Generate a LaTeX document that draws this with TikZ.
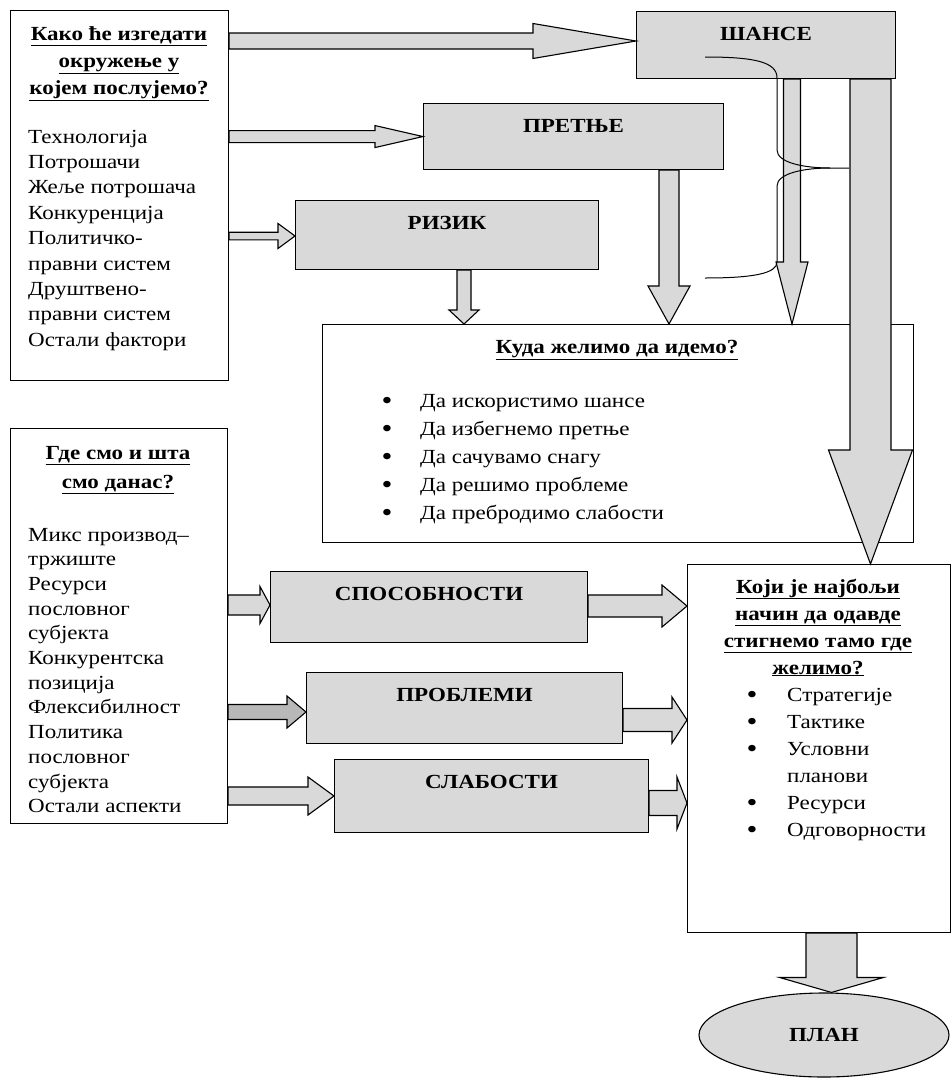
\documentclass[tikz,border=0pt]{standalone}
\usepackage{fontspec}
\setmainfont{Liberation Serif}[FakeStretch=1.15]
\usepackage{tikz}
\usetikzlibrary{calc,shapes.geometric}
\definecolor{boxGray}{gray}{0.85}
\definecolor{darkArrow}{gray}{0.72}

\tikzset{
  whitebox/.style={draw, line width=1.1pt, fill=white, inner sep=0pt, anchor=north west},
  graybox/.style={draw, line width=1.1pt, fill=boxGray, inner sep=0pt, anchor=north west},
  boxlabel/.style={font=\fontsize{20}{24}\selectfont\bfseries, inner sep=0pt, anchor=base},
  bodytext/.style={font=\fontsize{20}{24}\selectfont, inner sep=0pt, anchor=base west},
  bullettext/.style={font=\fontsize{27}{30}\selectfont, inner sep=0pt, anchor=base},
  titletext/.style={font=\fontsize{20}{24}\selectfont\bfseries, inner sep=0pt, anchor=base},
  blockarrow/.style={draw, line width=1.1pt, line join=miter}
}

% block arrow pointing right: [fill]{start}{tip}{half shaft}{half head}{head length}
\newcommand\harrow[6][boxGray]{%
  \filldraw[blockarrow, fill=#1] let \p1=(#2), \p2=(#3) in
    (\x1,{\y2+#4pt}) -- ({\x2-#6pt},{\y2+#4pt}) -- ({\x2-#6pt},{\y2+#5pt}) -- (\x2,\y2)
    -- ({\x2-#6pt},{\y2-#5pt}) -- ({\x2-#6pt},{\y2-#4pt}) -- (\x1,{\y2-#4pt}) -- cycle;}
% block arrow pointing down
\newcommand\varrow[6][boxGray]{%
  \filldraw[blockarrow, fill=#1] let \p1=(#2), \p2=(#3) in
    ({\x2-#4pt},\y1) -- ({\x2-#4pt},{\y2+#6pt}) -- ({\x2-#5pt},{\y2+#6pt}) -- (\x2,\y2)
    -- ({\x2+#5pt},{\y2+#6pt}) -- ({\x2+#4pt},{\y2+#6pt}) -- ({\x2+#4pt},\y1) -- cycle;}

\begin{document}
\begin{tikzpicture}[x=1pt,y=-1pt]
\path[use as bounding box, fill=white] (0,0) rectangle (952,1082);

% the white boxes
\node[whitebox, minimum width=218pt, minimum height=370pt] (envbox) at (10,10) {};
\node[whitebox, minimum width=217pt, minimum height=395pt] (nowbox) at (10,428) {};
\node[whitebox, minimum width=591pt, minimum height=218pt] (kudabox) at (322,324) {};
\node[whitebox, minimum width=263pt, minimum height=368pt] (kojibox) at (687,564) {};

% the grey boxes
\def\grayboxes{shanse/636/11/259/67/ШАНСЕ,
               pretnje/423/103/300/66/ПРЕТЊЕ,
               rizik/295/200/303/69/РИЗИК,
               sposob/270/571/317/71/СПОСОБНОСТИ,
               problemi/306/672/316/71/ПРОБЛЕМИ,
               slabosti/334/759/314/73/СЛАБОСТИ}
\foreach \nm/\bx/\by/\bw/\bh/\lbl in \grayboxes
{
\node[graybox, minimum width=\bw pt, minimum height=\bh pt] (\nm) at (\bx,\by) {};
\node[boxlabel] (\nm-lbl) at ([yshift=-29pt]\nm.north) {\lbl};
}

\node[ellipse, draw, line width=1.1pt, fill=boxGray, inner sep=0pt,
      minimum width=250pt, minimum height=84pt, font=\fontsize{20}{24}\selectfont\bfseries] (plan) at (824,1035) {ПЛАН};

% arrows out of the environment box
\harrow{envbox.east}{shanse.west |- 0,41}{8}{17.5}{103}
\harrow{envbox.east}{pretnje.west}{6}{11}{48}
\harrow{envbox.east}{rizik.west |- 0,236}{3.8}{12.5}{17}

% arrows down into the goal box
\varrow{rizik.south}{kudabox.north -| 464,0}{7}{15}{14}
\varrow{pretnje.south}{kudabox.north -| 669,0}{10}{21}{38}
\varrow{shanse.south}{kudabox.north -| 792,0}{8.5}{16}{62}
\varrow{shanse.south}{kojibox.north -| 870.5,0}{20.5}{42}{114}

% arrows of the lower row
\harrow{nowbox.east}{sposob.west |- 0,605}{10}{18.5}{10}
\harrow{sposob.east}{kojibox.west |- 0,606}{11}{21}{25}
\harrow[darkArrow]{nowbox.east}{problemi.west |- 0,712}{7.5}{16}{19}
\harrow{problemi.east}{kojibox.west |- 0,720}{11.5}{23}{15}
\harrow{nowbox.east}{slabosti.west |- 0,796}{9}{19}{26}
\harrow{slabosti.east}{kojibox.west |- 0,803}{12.5}{26}{10}

\varrow{kojibox.south}{plan.north -| 831.5,0}{25.5}{52}{15}

% the brace
\draw[line width=1pt] (705,57) .. controls (755,57) and (777,62) .. (777,78) -- (777,150)
  .. controls (777,163) and (805,168) .. (830,168) -- (849,168);
\draw[line width=1pt] (830,168) .. controls (805,168) and (777,173) .. (777,186) -- (777,262)
  .. controls (777,273) and (755,278) .. (705,278);

% texts of the environment box
\foreach \t [count=\i] in {Како ће изгедати, окружење у, којем послујемо?}
\node[titletext] (envtitle-\i) at (119,{40+(\i-1)*27}) {\underline{\t}};
\foreach \t [count=\i] in {Технологија, Потрошачи, Жеље потрошача, Конкуренција, Политичко-,
    правни систем, Друштвено-, правни систем, Остали фактори}
\node[bodytext] (env-\i) at (28,{143+(\i-1)*25.4}) {\t};

% texts of the present box
\foreach \t [count=\i] in {Где смо и шта, смо данас?}
\node[titletext] (nowtitle-\i) at (118,{459+(\i-1)*29}) {\underline{\t}};
\foreach \t [count=\i] in {Микс производ–, тржиште, Ресурси, пословног, субјекта, Конкурентска,
    позиција, Флексибилност, Политика, пословног, субјекта, Остали аспекти}
\node[bodytext] (now-\i) at (28,{541+(\i-1)*24.7}) {\t};

% texts of the goal box
\node[titletext] (kudatitle) at (617,353) {\underline{Куда желимо да идемо?}};
\foreach \t [count=\i] in {Да искористимо шансе, Да избегнемо претње, Да сачувамо снагу,
    Да решимо проблеме, Да пребродимо слабости}
{
\node[bullettext] (kudabul-\i) at (387,{409+(\i-1)*28}) {\textbullet};
\node[bodytext] (kuda-\i) at (420,{407+(\i-1)*28}) {\t};
}

% texts of the way box
\foreach \t [count=\i] in {Који је најбољи, начин да одавде, стигнемо тамо где, желимо?}
\node[titletext] (kojititle-\i) at (818,{593+(\i-1)*27}) {\underline{\t}};
\foreach \t/\b [count=\i] in {Стратегије/1, Тактике/1, Условни/1, планови/0, Ресурси/1, Одговорности/1}
{
\ifnum\b=1 \node[bullettext] (kojibul-\i) at (752,{703+(\i-1)*27}) {\textbullet}; \fi
\node[bodytext] (koji-\i) at (787,{701+(\i-1)*27}) {\t};
}

\end{tikzpicture}
\end{document}
